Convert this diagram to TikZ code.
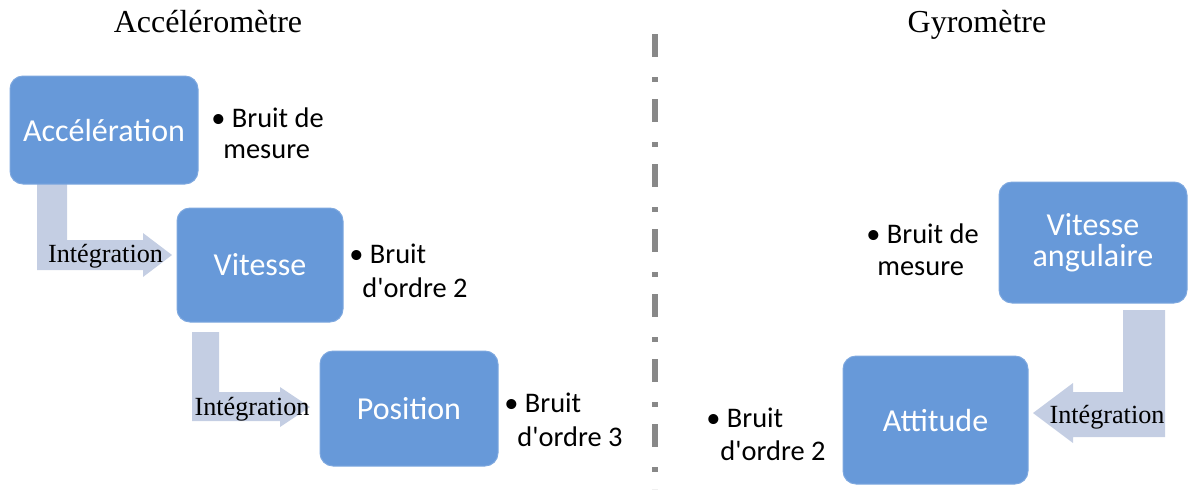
\documentclass[tikz,border=0pt]{standalone}
\usepackage{fontspec}
\setmainfont{Liberation Serif}
\newfontfamily\calib{Carlito}
\definecolor{boxblue}{RGB}{103,153,217}
\definecolor{arrowcol}{RGB}{196,206,227}
\definecolor{sepgray}{RGB}{136,136,136}
\tikzset{
  box/.style={fill=boxblue, draw=boxblue!85!white, line width=0.5pt, rounded corners=6.5pt, inner sep=0pt, text=white, font=\calib\fontsize{16}{15.5}\selectfont, align=center},
  bul/.style={anchor=base west, inner sep=0pt, font=\calib\fontsize{14.2}{16}\selectfont},
  title/.style={anchor=base, inner sep=0pt, font=\fontsize{16}{18}\selectfont},
  integ/.style={anchor=base, inner sep=0pt, font=\fontsize{13.1}{15}\selectfont},
  bigarrow/.style={fill=arrowcol, draw=none},
  sep/.style={draw=sepgray, line width=2.75pt, dash pattern=on 11.5pt off 10pt on 2.25pt off 8.75pt}
}
\begin{document}
\begin{tikzpicture}[x=0.5pt,y=-0.5pt]
\useasboundingbox (0,0) rectangle (1188,489);
% titles
\node[title] (tacc) at (208,32) {Accéléromètre};
\node[title] (tgyr) at (977,32) {Gyromètre};
% separator
\coordinate (s1) at (655,34);
\coordinate (s2) at (655,489);
\draw[sep] (s1) -- (s2);
% block arrows
\draw[bigarrow] (37,175) -- (67,175) -- (67,240) -- (143,240) -- (143,233) -- (172,255) -- (143,277) -- (143,270) -- (37,270) -- cycle;
\draw[bigarrow] (192,332) -- (219,332) -- (219,392) -- (280,392) -- (280,387) -- (310,407) -- (280,427) -- (280,421) -- (192,421) -- cycle;
\draw[bigarrow] (1165,310) -- (1123,310) -- (1123,392) -- (1073,392) -- (1073,383) -- (1033,413) -- (1073,443) -- (1073,437) -- (1165,437) -- cycle;
% boxes
\node[box, minimum width=94pt, minimum height=54pt] (acc) at (104,130) {Accélération};
\node[box, minimum width=83pt, minimum height=57pt] (vit) at (260,265) {Vitesse};
\node[box, minimum width=89pt, minimum height=57.5pt] (pos) at (409,408.5) {Position};
\node[box, minimum width=94pt, minimum height=60.5pt] (va) at (1093,242.5) {Vitesse\\angulaire};
\node[box, minimum width=92.5pt, minimum height=64pt] (att) at (935.5,420) {Attitude};
% integration labels
\node[integ] (i1) at (105.5,262) {Intégration};
\node[integ] (i2) at (252,415) {Intégration};
\node[integ] (i3) at (1107,423) {Intégration};
% bullets
\node[bul] (b1a) at (211,127) {• Bruit de};
\node[bul] (b1b) at (223,158) {mesure};
\node[bul] (b2a) at (349,263) {• Bruit};
\node[bul] (b2b) at (362,297) {d'ordre 2};
\node[bul] (b3a) at (504,412) {• Bruit};
\node[bul] (b3b) at (517,446) {d'ordre 3};
\node[bul] (b4a) at (866,243) {• Bruit de};
\node[bul] (b4b) at (877,275) {mesure};
\node[bul] (b5a) at (706,427) {• Bruit};
\node[bul] (b5b) at (720,460) {d'ordre 2};
\end{tikzpicture}
\end{document}
